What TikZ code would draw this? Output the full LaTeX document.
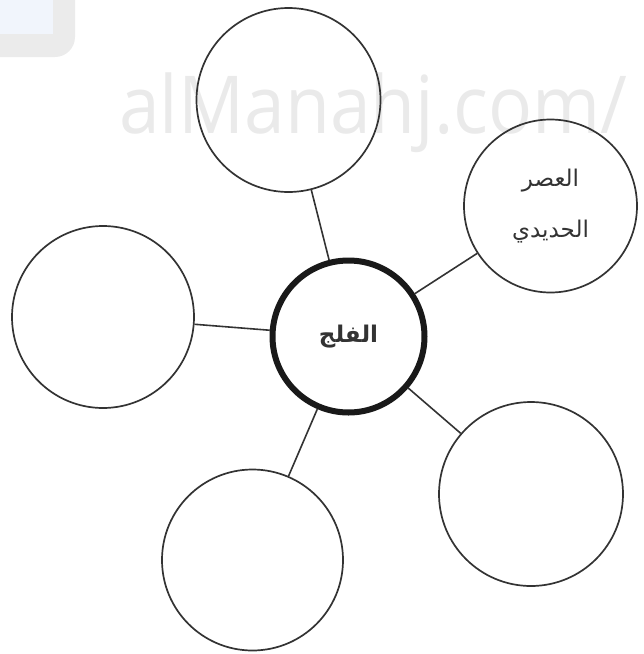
\documentclass[tikz,border=0pt]{standalone}
\usepackage{fontspec}
\TeXXeTstate=1
\newfontfamily\arabicfont[Script=Arabic]{DejaVu Sans}
\newfontfamily\wmfont{Open Sans}
\definecolor{linegray}{HTML}{333333}
\definecolor{wmgray}{HTML}{EAEAEA}
\definecolor{boxgray}{HTML}{EBEBEB}
\definecolor{boxblue}{HTML}{F1F5FC}
\tikzset{
  bubble/.style={circle, draw=linegray, line width=1.7pt, inner sep=0pt},
  hub/.style={circle, draw=black!90, line width=6pt, inner sep=0pt},
  link/.style={draw=linegray, line width=1.6pt},
}
\begin{document}
\begin{tikzpicture}[x=1pt,y=-1pt]
\useasboundingbox (0,0) rectangle (644,654);
\begin{scope}
  \clip (0,0) rectangle (644,654);
  \fill[boxgray, rounded corners=20pt] (-40,-40) rectangle (75,57);
  \fill[boxblue] (-10,-10) rectangle (53,34);
  \node[anchor=base west, inner sep=0pt, text=wmgray, font=\wmfont\fontsize{80}{80}\selectfont] (wm) at (119,133) {\scalebox{0.915}[1]{alManahj.com/}};
\end{scope}
\node[hub, minimum size=152pt, font=\arabicfont\bfseries\fontsize{23}{26}\selectfont, text=linegray] (C) at (348.5,336.5) {\beginR الفلج\endR};
\node[bubble, minimum size=184pt] (T) at (288.5,100) {};
\node[bubble, minimum size=173pt, align=center, text=linegray, font=\arabicfont\fontsize{23}{51}\selectfont] (TR) at (550.5,206) {\beginR العصر\endR\\\beginR الحديدي\endR};
\node[bubble, minimum size=182pt] (L) at (103,317) {};
\node[bubble, minimum size=184pt] (BR) at (531,494) {};
\node[bubble, minimum size=181pt] (B) at (252.5,560) {};
\draw[link] (C) -- (T);
\draw[link] (C) -- (TR);
\draw[link] (C) -- (L);
\draw[link] (C) -- (BR);
\draw[link] (C) -- (B);
\end{tikzpicture}
\end{document}
